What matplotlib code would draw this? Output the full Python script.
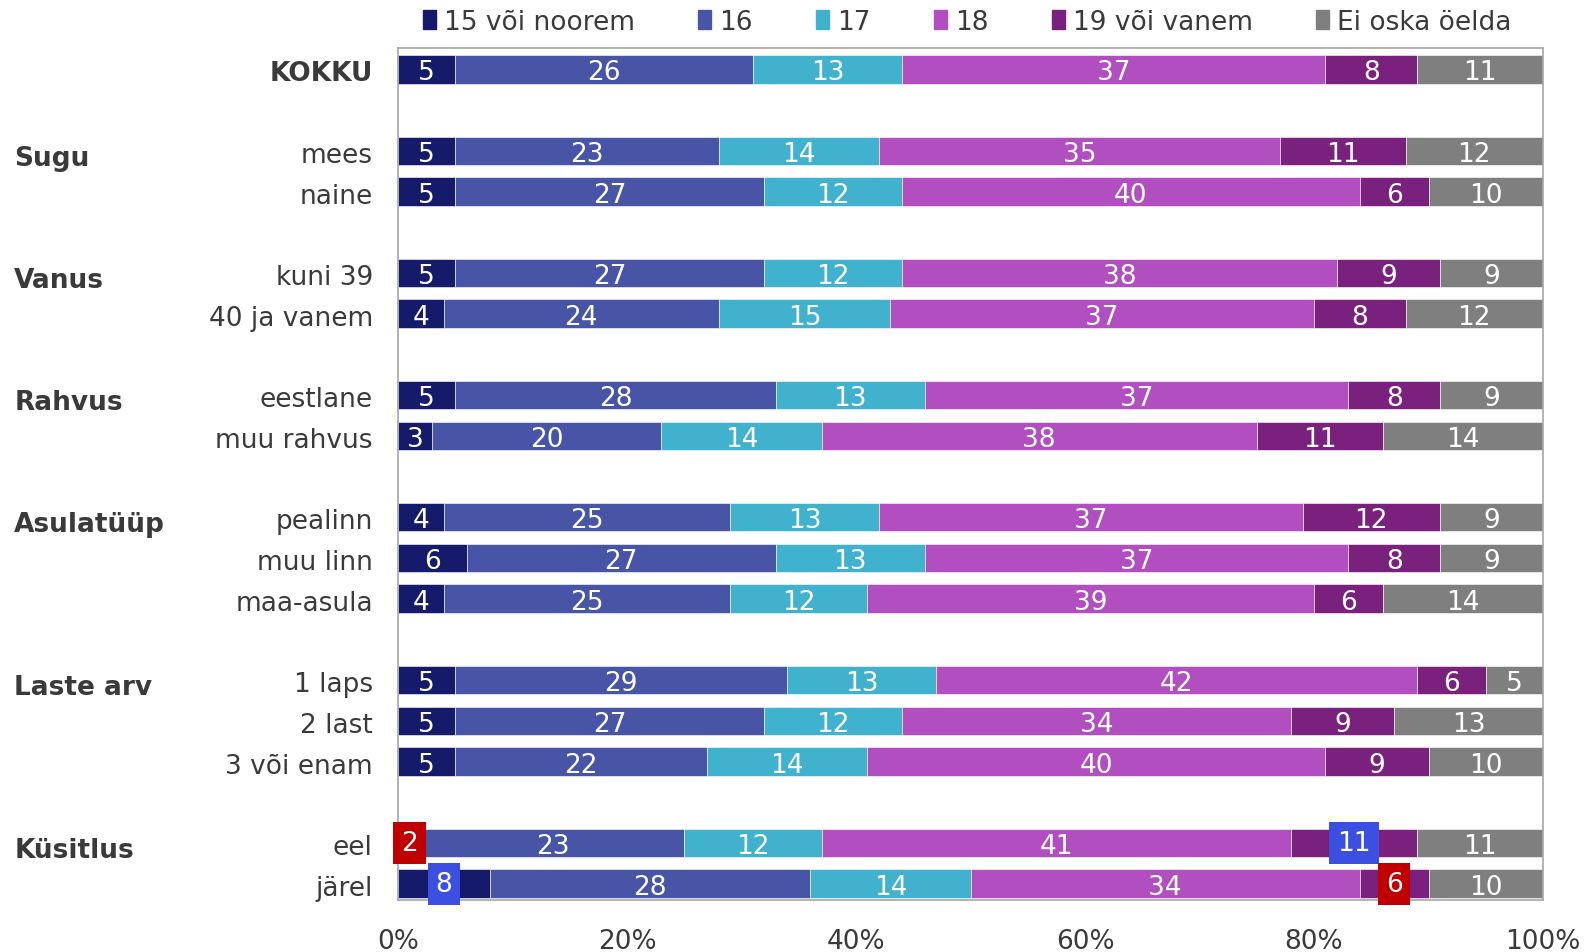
import matplotlib.pyplot as plt
import numpy as np
from matplotlib.patches import Patch
from matplotlib.transforms import blended_transform_factory

plt.rcParams['font.family'] = ['DejaVu Sans']

# --- data ---
series = ["15 või noorem", "16", "17", "18", "19 või vanem", "Ei oska öelda"]
colors = ["#151B6A", "#4855A7", "#41B2CE", "#B24FC0", "#79217C", "#7F7F7F"]

row_labels = ["KOKKU", "mees", "naine", "kuni 39", "40 ja vanem", "eestlane",
              "muu rahvus", "pealinn", "muu linn", "maa-asula", "1 laps",
              "2 last", "3 või enam", "eel", "järel"]
# slot index of each row (gaps between groups are empty slots)
row_slots = [0, 2, 3, 5, 6, 8, 9, 11, 12, 13, 15, 16, 17, 19, 20]

values = np.array([
    [5, 26, 13, 37, 8, 11],
    [5, 23, 14, 35, 11, 12],
    [5, 27, 12, 40, 6, 10],
    [5, 27, 12, 38, 9, 9],
    [4, 24, 15, 37, 8, 12],
    [5, 28, 13, 37, 8, 9],
    [3, 20, 14, 38, 11, 14],
    [4, 25, 13, 37, 12, 9],
    [6, 27, 13, 37, 8, 9],
    [4, 25, 12, 39, 6, 14],
    [5, 29, 13, 42, 6, 5],
    [5, 27, 12, 34, 9, 13],
    [5, 22, 14, 40, 9, 10],
    [2, 23, 12, 41, 11, 11],
    [8, 28, 14, 34, 6, 10],
])

groups = ["Sugu", "Vanus", "Rahvus", "Asulatüüp", "Laste arv", "Küsitlus"]
group_slots = [2, 5, 8, 11, 15, 19]

# significant changes: (row index, series index) -> box colour
highlights = {(13, 0): "#C00000", (13, 4): "#3B4FE0",
              (14, 0): "#3B4FE0", (14, 4): "#C00000"}

txt_col = "#3A3A3A"
fs = 19

fig = plt.figure(figsize=(15.96, 9.53), dpi=100)
ax = fig.add_axes([0.2494, 0.0546, 0.7174, 0.894])

left = np.zeros(len(row_labels))
for j, (name, col) in enumerate(zip(series, colors)):
    ax.barh(row_slots, values[:, j], left=left, height=0.7, color=col,
            edgecolor="white", linewidth=0.4, label=name)
    for i, v in enumerate(values[:, j]):
        x = left[i] + v / 2
        box = highlights.get((i, j))
        if box:
            ax.text(x, row_slots[i], str(v), ha="center", va="center",
                    color="white", fontsize=fs, zorder=5,
                    bbox=dict(boxstyle="square,pad=0.3", fc=box, ec="none"))
        else:
            ax.text(x, row_slots[i], str(v), ha="center",
                    va="center_baseline", color="white", fontsize=fs)
    left += values[:, j]

ax.set_xlim(0, 100)
ax.set_ylim(20.4, -0.525)
ax.set_xticks(np.arange(0, 101, 20))
ax.set_xticklabels([f"{t}%" for t in range(0, 101, 20)])
ax.set_yticks([])
ax.tick_params(axis="x", length=0, labelsize=fs, colors=txt_col, pad=20)
for s in ax.spines.values():
    s.set_color("#A6A6A6")
    s.set_linewidth(1.2)

# row labels (right aligned next to the axis)
ytrans = blended_transform_factory(ax.transAxes, ax.transData)
for i, (lab, s) in enumerate(zip(row_labels, row_slots)):
    ax.text(-0.022, s + 0.1, lab, transform=ytrans, ha="right", va="center",
            fontsize=fs, color=txt_col,
            fontweight="bold" if i == 0 else "normal")

# group labels at the left edge of the figure
trans = blended_transform_factory(fig.transFigure, ax.transData)
for g, s in zip(groups, group_slots):
    ax.text(0.009, s + 0.1, g, transform=trans, ha="left",
            va="center_baseline", fontsize=fs, fontweight="bold",
            color=txt_col)

handles = [Patch(color=c, label=n) for n, c in zip(series, colors)]
fig.legend(handles=handles, loc="center", bbox_to_anchor=(0.606, 0.976),
           ncol=6, frameon=False, fontsize=fs, handlelength=0.5,
           handletextpad=0.3, columnspacing=2.4, labelcolor=txt_col)

fig.savefig("out.png", dpi=100)
